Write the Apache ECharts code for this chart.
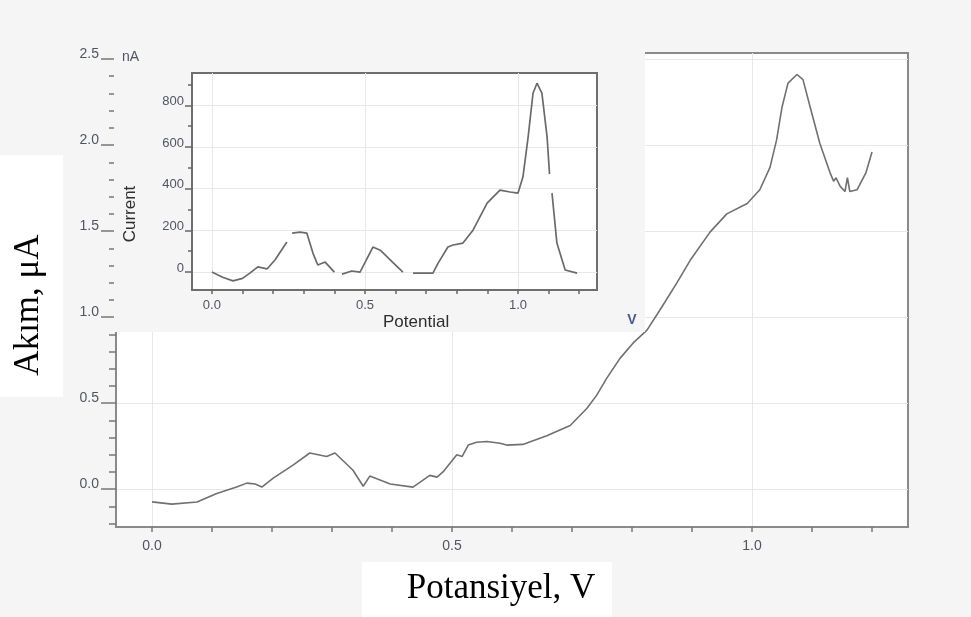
<!DOCTYPE html>
<html><head><meta charset="utf-8">
<script src="https://cdn.jsdelivr.net/npm/echarts/dist/echarts.min.js"></script>
<style>html,body{margin:0;padding:0;background:#f5f5f5}#c{width:971px;height:617px}</style>
</head><body><div id="c"></div><script>
// ---- Main chart data (Potansiyel V, Akım µA) ----
const mainX = [0.0,0.033,0.075,0.108,0.141,0.158,0.172,0.183,0.202,0.235,0.263,0.291,0.305,0.335,0.352,0.363,0.397,0.435,0.463,0.475,0.485,0.508,0.517,0.527,0.541,0.558,0.58,0.591,0.618,0.658,0.697,0.725,0.741,0.758,0.78,0.802,0.825,0.85,0.875,0.897,0.93,0.958,0.992,1.013,1.03,1.041,1.05,1.06,1.075,1.085,1.097,1.113,1.13,1.136,1.14,1.147,1.155,1.159,1.163,1.175,1.19,1.2];
const mainY = [-0.074,-0.087,-0.075,-0.025,0.012,0.035,0.03,0.012,0.064,0.14,0.21,0.19,0.21,0.11,0.017,0.076,0.03,0.012,0.08,0.07,0.1,0.2,0.19,0.256,0.273,0.277,0.267,0.256,0.26,0.31,0.37,0.47,0.545,0.645,0.76,0.85,0.924,1.06,1.2,1.33,1.494,1.6,1.66,1.74,1.87,2.03,2.22,2.36,2.41,2.38,2.22,2.01,1.84,1.79,1.81,1.76,1.73,1.81,1.73,1.74,1.84,1.96];
// ---- Inset data (Potential, Current nA) ; null = break in trace ----
const insetX = [0.0,0.035,0.069,0.1,0.124,0.15,0.18,0.206,0.245,0.253,0.262,0.288,0.31,0.33,0.346,0.37,0.40,0.412,0.425,0.457,0.484,0.526,0.55,0.59,0.624,0.64,0.657,0.722,0.739,0.771,0.788,0.82,0.853,0.899,0.941,0.974,1.0,1.016,1.033,1.049,1.062,1.078,1.095,1.103,1.108,1.111,1.127,1.154,1.193];
const insetY = [0,-25,-42,-30,-5,25,15,58,144,null,187,192,187,91,34,48,0,null,-10,5,0,120,105,48,0,null,-5,-5,43,120,130,139,201,331,393,384,379,456,647,858,906,858,647,470,null,379,139,10,-5];
// ---- Tick values / labels ----
const mainXTicks = [0,0.1,0.2,0.3,0.4,0.5,0.6,0.7,0.8,0.9,1.0,1.1,1.2];
const mainXLabels = [0,0.5,1.0];
const mainYTicks = [-0.2,-0.1,0,0.1,0.2,0.3,0.4,0.5,0.6,0.7,0.8,0.9,1.0,1.1,1.2,1.3,1.4,1.5,1.6,1.7,1.8,1.9,2.0,2.1,2.2,2.3,2.4,2.5];
const mainYLabels = [0,0.5,1.0,1.5,2.0,2.5];
const insetXTicks = [0,0.1,0.2,0.3,0.4,0.5,0.6,0.7,0.8,0.9,1.0,1.1,1.2];
const insetXLabels = [0,0.5,1.0];
const insetYTicks = [0,100,200,300,400,500,600,700,800,900];
const insetYLabels = [0,200,400,600,800];

const toPairs = (xs, ys) => xs.map((x, i) => [x, ys[i] === null ? null : ys[i]]);
const lblColor = '#4f5563';
const sans = '"Liberation Sans", Arial, sans-serif';
const serif = '"Liberation Serif", "Times New Roman", serif';

const chart = echarts.init(document.getElementById('c'), null, {renderer: 'canvas'});
const gridLine = {color: '#e8e8e8', width: 1, type: 'solid'};

chart.setOption({
  animation: false,
  backgroundColor: '#f5f5f5',
  grid: [
    {left: 116, right: 63, top: 53, bottom: 90, show: true, backgroundColor: '#ffffff', borderColor: '#8a8a8a', borderWidth: 2, z: 0, containLabel: false, outerBoundsMode: 'none'},
    {left: 192, right: 374, top: 73, bottom: 327, show: true, backgroundColor: '#ffffff', borderColor: '#6e6e6e', borderWidth: 2, z: 6, containLabel: false, outerBoundsMode: 'none'}
  ],
  xAxis: [
    {gridIndex: 0, type: 'value', min: -0.06, max: 1.26, position: 'bottom', z: 1,
     axisLine: {show: true, onZero: false, lineStyle: {color: '#8a8a8a', width: 2}},
     axisTick: {show: true, customValues: mainXTicks, length: 5, lineStyle: {color: '#777', width: 1.5}},
     axisLabel: {show: true, customValues: mainXLabels, formatter: v => v.toFixed(1), color: lblColor, fontSize: 14, fontFamily: sans, margin: 12},
     splitLine: {show: false}},
    {gridIndex: 1, type: 'value', min: -0.065, max: 1.258, position: 'bottom', z: 7,
     axisLine: {show: true, onZero: false, lineStyle: {color: '#6e6e6e', width: 2}},
     axisTick: {show: true, customValues: insetXTicks, length: 4, lineStyle: {color: '#666', width: 1.5}},
     axisLabel: {show: true, customValues: insetXLabels, formatter: v => v.toFixed(1), color: lblColor, fontSize: 13, fontFamily: sans, margin: 9},
     splitLine: {show: false}}
  ],
  yAxis: [
    {gridIndex: 0, type: 'value', min: -0.22, max: 2.535, position: 'left', z: 1,
     axisLine: {show: true, onZero: false, lineStyle: {color: '#8a8a8a', width: 2}},
     axisTick: {show: true, customValues: mainYTicks, length: 7, lineStyle: {color: '#777', width: 1.5}},
     axisLabel: {show: false}, splitLine: {show: false}},
    {gridIndex: 0, type: 'value', min: -0.22, max: 2.535, position: 'left', offset: 0, z: 1,
     axisLine: {show: false, onZero: false},
     axisTick: {show: true, customValues: mainYLabels, length: 15, lineStyle: {color: '#777', width: 1.5}},
     axisLabel: {show: true, customValues: mainYLabels, formatter: v => v.toFixed(1), color: lblColor, fontSize: 14, fontFamily: sans, margin: 17, verticalAlign: 'bottom', lineHeight: 10},
     splitLine: {show: false}},
    {gridIndex: 1, type: 'value', min: -86, max: 955, position: 'left', z: 7,
     axisLine: {show: true, onZero: false, lineStyle: {color: '#6e6e6e', width: 2}},
     axisTick: {show: true, customValues: insetYTicks, length: 4, lineStyle: {color: '#666', width: 1.5}},
     axisLabel: {show: false}, splitLine: {show: false}},
    {gridIndex: 1, type: 'value', min: -86, max: 955, position: 'left', offset: 0, z: 7,
     axisLine: {show: false, onZero: false},
     axisTick: {show: true, customValues: insetYLabels, length: 7, lineStyle: {color: '#666', width: 1.5}},
     axisLabel: {show: true, customValues: insetYLabels, formatter: v => String(v), color: lblColor, fontSize: 13, fontFamily: sans, margin: 8, verticalAlign: 'bottom', lineHeight: 8},
     splitLine: {show: false}}
  ],
  series: [
    {type: 'line', xAxisIndex: 0, yAxisIndex: 0, z: 1, silent: true, showSymbol: false,
     data: toPairs(mainX, mainY), lineStyle: {opacity: 0},
     markLine: {z: 1, silent: true, symbol: ['none', 'none'], label: {show: false}, lineStyle: gridLine, animation: false,
       data: mainXLabels.map(v => ({xAxis: v})).concat(mainYLabels.map(v => ({yAxis: v})))}},
    {type: 'line', xAxisIndex: 0, yAxisIndex: 0, z: 2, silent: true, showSymbol: false,
     data: toPairs(mainX, mainY), lineStyle: {color: '#707070', width: 1.6}},
    {type: 'line', xAxisIndex: 1, yAxisIndex: 2, z: 7, silent: true, showSymbol: false,
     data: toPairs(insetX, insetY), lineStyle: {opacity: 0},
     markLine: {z: 7, silent: true, symbol: ['none', 'none'], label: {show: false}, lineStyle: gridLine, animation: false,
       data: insetXLabels.map(v => ({xAxis: v})).concat(insetYLabels.map(v => ({yAxis: v})))}},
    {type: 'line', xAxisIndex: 1, yAxisIndex: 2, z: 8, silent: true, showSymbol: false, connectNulls: false,
     data: toPairs(insetX, insetY), lineStyle: {color: '#6a6a6a', width: 1.7}}
  ],
  graphic: [
    {type: 'rect', z: 5, shape: {x: 114, y: 0, width: 531, height: 332}, style: {fill: '#f5f5f5'}},
    {type: 'text', z: 10, x: 122, y: 57, style: {text: 'nA', font: '14px ' + sans, fill: lblColor, align: 'left', verticalAlign: 'middle'}},
    {type: 'text', z: 10, x: 632, y: 320, style: {text: 'V', font: 'bold 14px ' + sans, fill: '#4a5a8a', align: 'center', verticalAlign: 'middle'}},
    {type: 'text', z: 10, x: 383, y: 322, style: {text: 'Potential', font: '17px ' + sans, fill: '#2e2e2e', align: 'left', verticalAlign: 'middle'}},
    {type: 'text', z: 10, x: 130, y: 214, rotation: Math.PI / 2, style: {text: 'Current', font: '17px ' + sans, fill: '#2e2e2e', align: 'center', verticalAlign: 'middle'}},
    {type: 'rect', z: 20, shape: {x: 0, y: 155, width: 63, height: 242}, style: {fill: '#ffffff'}},
    {type: 'text', z: 21, x: 29, y: 305, rotation: Math.PI / 2, style: {text: 'Akım, μA', font: '35px ' + serif, fill: '#000', align: 'center', verticalAlign: 'middle'}},
    {type: 'rect', z: 20, shape: {x: 362, y: 562, width: 250, height: 55}, style: {fill: '#ffffff'}},
    {type: 'text', z: 21, x: 501, y: 589, style: {text: 'Potansiyel, V', font: '35px ' + serif, fill: '#000', align: 'center', verticalAlign: 'middle'}}
  ]
});
</script></body></html>
